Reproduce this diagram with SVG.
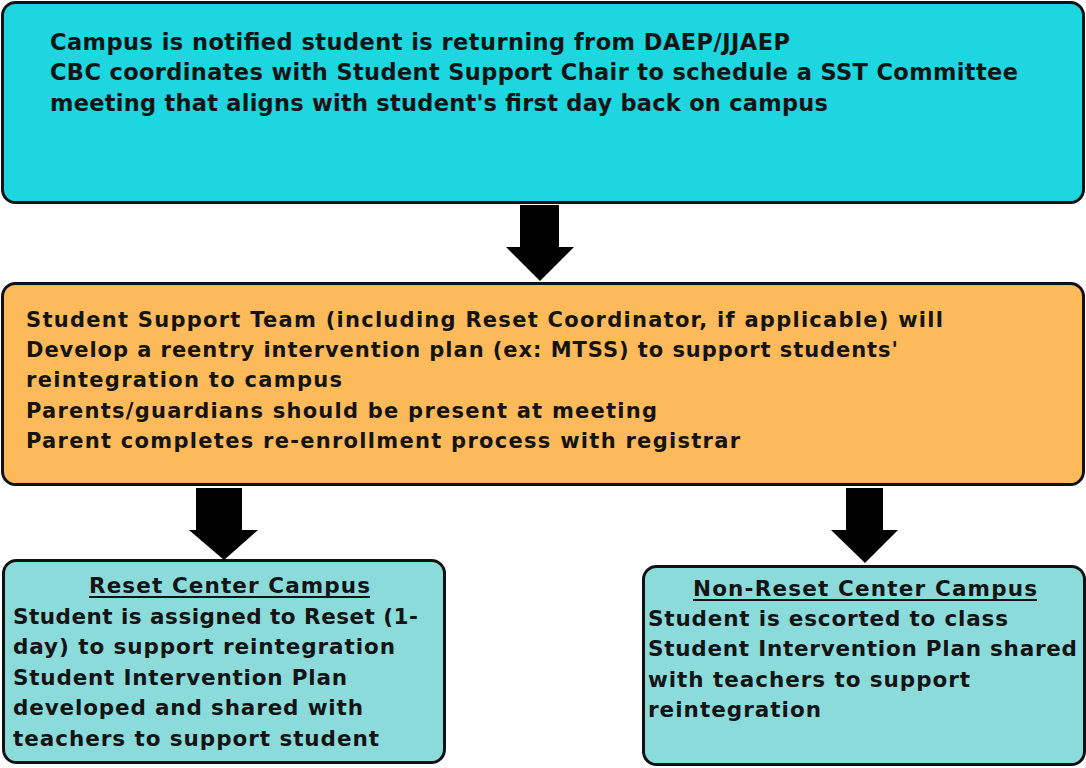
<svg xmlns="http://www.w3.org/2000/svg" width="1086" height="768" viewBox="0 0 1086 768">
<style>
.box{stroke:#111;stroke-width:3}
.t{font-family:"DejaVu Sans","Open Sans","Liberation Sans",sans-serif;font-weight:700;fill:#141414}
.top{font-size:22.5px}
.mid{font-size:21px}
.bot{font-size:21.5px}
.ul{stroke:#141414;stroke-width:2}
.arrow{fill:#000}
</style>
<rect width="1086" height="768" fill="#fff"/>
<g id="node-notify">
<rect class="box" x="2.5" y="2.5" width="1081" height="200" rx="13" fill="#1ED6DF"/>
<text class="t top" x="50" y="50" textLength="740" lengthAdjust="spacing">Campus is notified student is returning from DAEP/JJAEP</text>
<text class="t top" x="50" y="80" textLength="968" lengthAdjust="spacing">CBC coordinates with Student Support Chair to schedule a SST Committee</text>
<text class="t top" x="50" y="111" textLength="778" lengthAdjust="spacing">meeting that aligns with student's first day back on campus</text>
</g>
<g id="node-sst">
<rect class="box" x="2.5" y="283.5" width="1081" height="201" rx="13" fill="#FDBA5B"/>
<text class="t mid" x="26" y="327" textLength="917" lengthAdjust="spacing">Student Support Team (including Reset Coordinator, if applicable) will</text>
<text class="t mid" x="26" y="357" textLength="872" lengthAdjust="spacing">Develop a reentry intervention plan (ex: MTSS) to support students'</text>
<text class="t mid" x="26" y="387" textLength="316" lengthAdjust="spacing">reintegration to campus</text>
<text class="t mid" x="26" y="418" textLength="631" lengthAdjust="spacing">Parents/guardians should be present at meeting</text>
<text class="t mid" x="26" y="448" textLength="714" lengthAdjust="spacing">Parent completes re-enrollment process with registrar</text>
</g>
<g id="node-reset">
<rect class="box" x="3.5" y="560.5" width="441" height="202" rx="13" fill="#8BDBDB"/>
<text class="t bot" x="89" y="593" textLength="281" lengthAdjust="spacing">Reset Center Campus</text>
<line class="ul" x1="89" y1="597" x2="370" y2="597"/>
<text class="t bot" x="13" y="624" textLength="405" lengthAdjust="spacing">Student is assigned to Reset (1-</text>
<text class="t bot" x="13" y="654" textLength="382" lengthAdjust="spacing">day) to support reintegration</text>
<text class="t bot" x="13" y="685" textLength="334" lengthAdjust="spacing">Student Intervention Plan</text>
<text class="t bot" x="13" y="715" textLength="350" lengthAdjust="spacing">developed and shared with</text>
<text class="t bot" x="13" y="746" textLength="366" lengthAdjust="spacing">teachers to support student</text>
</g>
<g id="node-nonreset">
<rect class="box" x="643.5" y="566.5" width="441" height="198" rx="13" fill="#8BDBDB"/>
<text class="t bot" x="693" y="596" textLength="344" lengthAdjust="spacing">Non-Reset Center Campus</text>
<line class="ul" x1="693" y1="600" x2="1037" y2="600"/>
<text class="t bot" x="648" y="626" textLength="360" lengthAdjust="spacing">Student is escorted to class</text>
<text class="t bot" x="648" y="656" textLength="429" lengthAdjust="spacing">Student Intervention Plan shared</text>
<text class="t bot" x="648" y="687" textLength="322" lengthAdjust="spacing">with teachers to support</text>
<text class="t bot" x="648" y="717" textLength="173" lengthAdjust="spacing">reintegration</text>
</g>
<g id="connectors">
<polygon class="arrow" points="520,205 559,205 559,247 574,247 540,281 506,247 520,247"/>
<polygon class="arrow" points="196,488 242,488 242,530 258,530 224,560 189,530 196,530"/>
<polygon class="arrow" points="846,488 883,488 883,530 898,530 865,563 831,530 846,530"/>
</g>
</svg>
